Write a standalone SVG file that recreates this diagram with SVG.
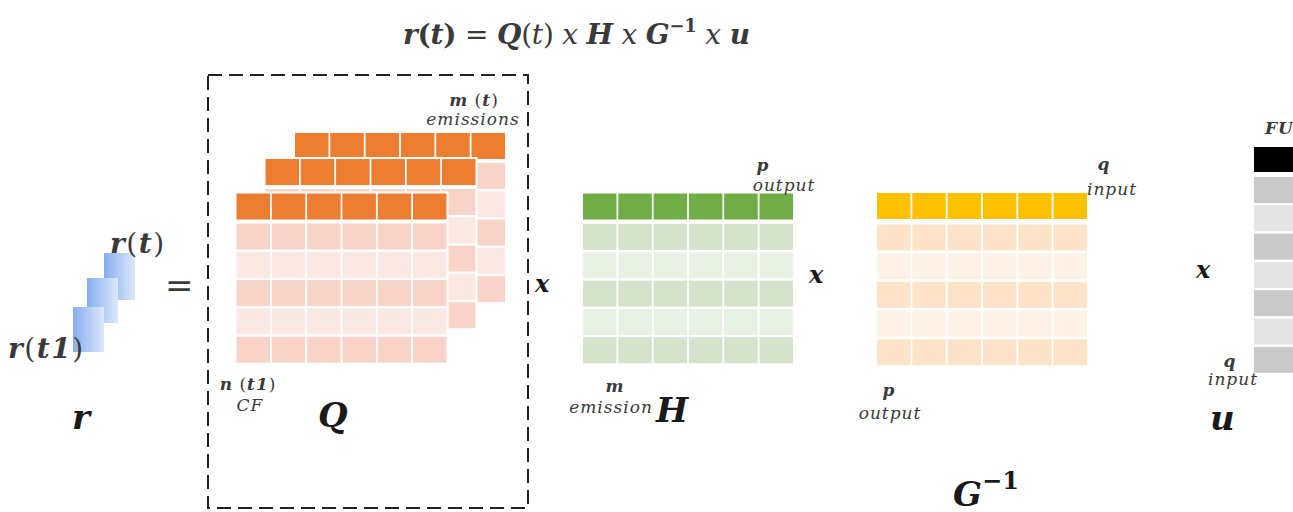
<svg xmlns="http://www.w3.org/2000/svg" xmlns:xlink="http://www.w3.org/1999/xlink" width="1293" height="512" viewBox="0 0 1293 512">
<style>
  text { font-family: "DejaVu Serif", "Liberation Serif", serif; fill: #3a3a3a; }
  .bi { font-weight: bold; font-style: italic; }
  .it { font-style: italic; }
  .lbl { font-size: 17px; letter-spacing: 1px; }
  .big { font-size: 34px; font-weight: bold; font-style: italic; fill: #1a1a1a; }
  .op { font-size: 24px; font-weight: bold; font-style: italic; fill: #1a1a1a; }
</style>
<defs>
  <g id="row6">
    <rect x="0" y="0" width="33.5" height="26"/>
    <rect x="35.3" y="0" width="33.5" height="26"/>
    <rect x="70.6" y="0" width="33.5" height="26"/>
    <rect x="105.9" y="0" width="33.5" height="26"/>
    <rect x="141.2" y="0" width="33.5" height="26"/>
    <rect x="176.5" y="0" width="33.5" height="26"/>
  </g>
  <g id="qlayer">
    <rect x="-2" y="-2" width="214" height="173" fill="#ffffff"/>
    <use xlink:href="#row6" y="0" fill="#ed7d31"/>
    <use xlink:href="#row6" y="30" fill="#f8d4c8"/>
    <use xlink:href="#row6" y="58.3" fill="#fbe8e2"/>
    <use xlink:href="#row6" y="86.6" fill="#f8d4c8"/>
    <use xlink:href="#row6" y="114.9" fill="#fbe8e2"/>
    <use xlink:href="#row6" y="143.2" fill="#f8d4c8"/>
  </g>
  <linearGradient id="blue" x1="0" y1="0" x2="1" y2="0">
    <stop offset="0" stop-color="#86aeee"/>
    <stop offset="1" stop-color="#dce8fb"/>
  </linearGradient>
</defs>

<g id="formula">
  <text x="403" y="44" font-size="28" textLength="347" lengthAdjust="spacing"><tspan class="bi">r</tspan><tspan font-weight="bold">(</tspan><tspan class="bi">t</tspan><tspan font-weight="bold">)</tspan> = <tspan class="bi">Q</tspan>(<tspan class="it">t</tspan>) <tspan class="it">x</tspan> <tspan class="bi">H</tspan> <tspan class="it">x</tspan> <tspan class="bi">G</tspan><tspan font-weight="bold" font-size="18" dy="-12">−1</tspan><tspan dy="12"> </tspan><tspan class="it">x</tspan> <tspan class="bi">u</tspan></text>
</g>

<g id="r-node">
  <rect x="104" y="253" width="31" height="47" fill="url(#blue)"/>
  <rect x="87" y="278" width="31" height="45" fill="url(#blue)"/>
  <rect x="73" y="307" width="31" height="45" fill="url(#blue)"/>
  <text x="110" y="253" font-size="28" letter-spacing="1.5"><tspan class="bi">r</tspan>(<tspan class="bi">t</tspan>)</text>
  <text x="8" y="358" font-size="28" letter-spacing="1.5"><tspan class="bi">r</tspan>(<tspan class="bi">t1</tspan>)</text>
  <text x="72" y="429" class="big">r</text>
</g>

<g id="equals">
  <text x="165" y="297" font-size="34" fill="#1a1a1a">=</text>
</g>

<g id="Q-node">
  <rect x="208" y="75" width="320" height="433" fill="none" stroke="#222" stroke-width="2" stroke-dasharray="14 7"/>
  <use xlink:href="#qlayer" x="295" y="133"/>
  <use xlink:href="#qlayer" x="265.5" y="159"/>
  <use xlink:href="#qlayer" x="236.5" y="193.5"/>
  <text x="474" y="106" class="lbl" text-anchor="middle"><tspan class="bi">m</tspan> (<tspan class="bi">t</tspan>)</text>
  <text x="473" y="125" class="lbl it" font-size="16" letter-spacing="0.6" text-anchor="middle">emissions</text>
  <text x="248" y="390" class="lbl" text-anchor="middle"><tspan class="bi">n</tspan> (<tspan class="bi">t1</tspan>)</text>
  <text x="250" y="411" class="lbl it" font-size="15" text-anchor="middle">CF</text>
  <text x="318" y="427" class="big">Q</text>
</g>

<g id="op1"><text x="535" y="292" class="op">x</text></g>

<g id="H-node">
  <rect x="581" y="191.5" width="216" height="173" fill="#ffffff"/>
  <use xlink:href="#row6" x="583" y="193.5" fill="#70ad47"/>
  <use xlink:href="#row6" x="583" y="224" fill="#d5e3cc"/>
  <use xlink:href="#row6" x="583" y="252.3" fill="#e9f0e4"/>
  <use xlink:href="#row6" x="583" y="280.6" fill="#d5e3cc"/>
  <use xlink:href="#row6" x="583" y="308.9" fill="#e9f0e4"/>
  <use xlink:href="#row6" x="583" y="337.2" fill="#d5e3cc"/>
  <text x="763" y="171" class="lbl bi" font-size="18" text-anchor="middle">p</text>
  <text x="784" y="191" class="lbl it" font-size="18" letter-spacing="0.5" text-anchor="middle">output</text>
  <text x="615" y="392" class="lbl bi" font-size="18" text-anchor="middle">m</text>
  <text x="611" y="413" class="lbl it" font-size="19" letter-spacing="0.8" text-anchor="middle">emission</text>
  <text x="656" y="422" class="big">H</text>
</g>

<g id="op2"><text x="809" y="283" class="op">x</text></g>

<g id="G-node">
  <use xlink:href="#row6" x="877" y="193" fill="#ffc000"/>
  <use xlink:href="#row6" x="877" y="224.5" fill="#fde4c9"/>
  <use xlink:href="#row6" x="877" y="253.2" fill="#fef2e6"/>
  <use xlink:href="#row6" x="877" y="281.9" fill="#fde4c9"/>
  <use xlink:href="#row6" x="877" y="310.6" fill="#fef2e6"/>
  <use xlink:href="#row6" x="877" y="339.3" fill="#fde4c9"/>
  <text x="1104" y="170" class="lbl bi" font-size="18" text-anchor="middle">q</text>
  <text x="1112" y="195" class="lbl it" font-size="18" letter-spacing="0.4" text-anchor="middle">input</text>
  <text x="889" y="396" class="lbl bi" font-size="18" text-anchor="middle">p</text>
  <text x="890" y="419" class="lbl it" font-size="18" letter-spacing="0.8" text-anchor="middle">output</text>
  <text x="953" y="506" class="big">G<tspan font-size="24" font-style="normal" dy="-17">−1</tspan></text>
</g>

<g id="op3"><text x="1196" y="278" class="op">x</text></g>

<g id="u-node">
  <rect x="1254" y="147" width="60" height="25" fill="#000000"/>
  <rect x="1254" y="177" width="60" height="26" fill="#c9c9c9"/>
  <rect x="1254" y="205.3" width="60" height="26" fill="#e4e4e4"/>
  <rect x="1254" y="233.6" width="60" height="26" fill="#c9c9c9"/>
  <rect x="1254" y="261.9" width="60" height="26" fill="#e4e4e4"/>
  <rect x="1254" y="290.2" width="60" height="26" fill="#c9c9c9"/>
  <rect x="1254" y="318.5" width="60" height="26" fill="#e4e4e4"/>
  <rect x="1254" y="346.8" width="60" height="26" fill="#c9c9c9"/>
  <text x="1265" y="134" class="lbl bi" font-size="15" letter-spacing="0.5">FU</text>
  <text x="1230" y="367" class="lbl bi" font-size="18" text-anchor="middle">q</text>
  <text x="1233" y="385" class="lbl it" font-size="18" letter-spacing="0.8" text-anchor="middle">input</text>
  <text x="1210" y="430" class="big" font-size="38">u</text>
</g>
</svg>
